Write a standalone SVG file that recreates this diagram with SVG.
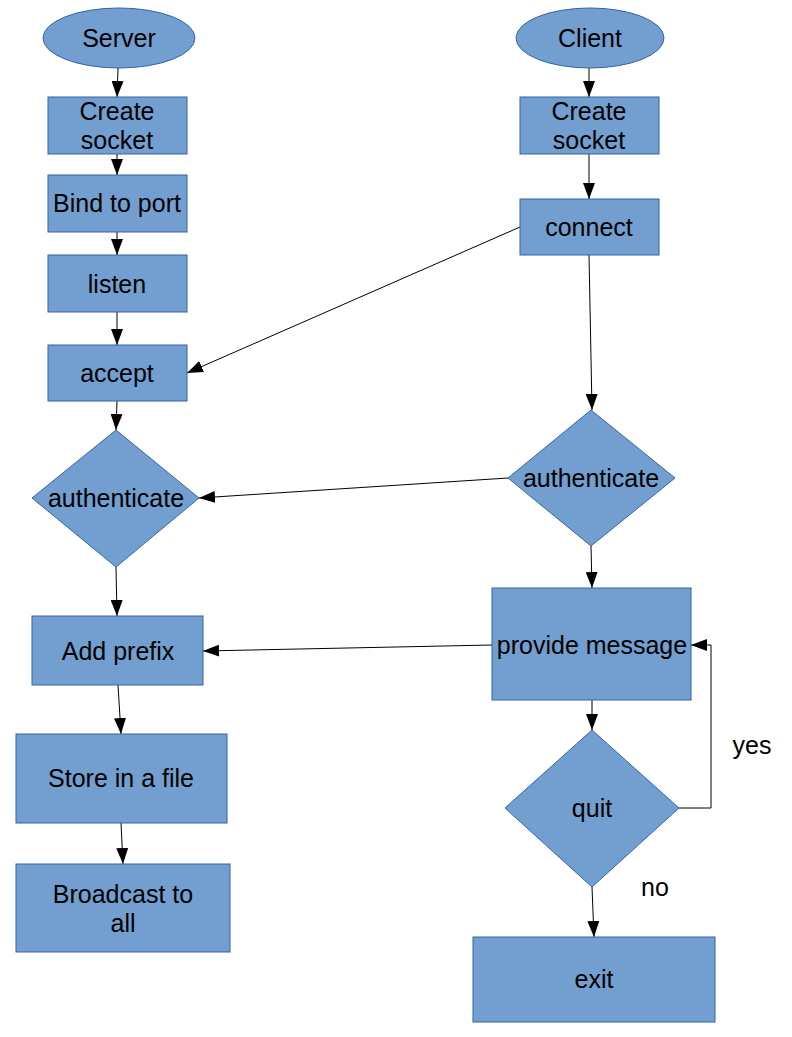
<svg xmlns="http://www.w3.org/2000/svg" width="792" height="1037" viewBox="0 0 792 1037">
<style>
.n{fill:#729fcf;stroke:#3465a4;stroke-width:1}
.t{font-family:"Liberation Sans",Arial,sans-serif;font-size:25px;fill:#000;text-anchor:middle}
.c{fill:none;stroke:#000;stroke-width:1}
</style>
<defs>
<marker id="a" markerUnits="userSpaceOnUse" markerWidth="16" markerHeight="12" refX="16" refY="6" orient="auto">
<path d="M0,0 L16,6 L0,12 z" fill="#000"/>
</marker>
</defs>
<rect width="792" height="1037" fill="#fff"/>
<g id="connectors">
<line class="c" x1="118" y1="68" x2="117" y2="97" marker-end="url(#a)"/>
<line class="c" x1="117" y1="154" x2="117" y2="175" marker-end="url(#a)"/>
<line class="c" x1="117" y1="232" x2="117" y2="255" marker-end="url(#a)"/>
<line class="c" x1="117" y1="312" x2="117" y2="345" marker-end="url(#a)"/>
<line class="c" x1="117" y1="401" x2="116" y2="430" marker-end="url(#a)"/>
<line class="c" x1="116" y1="567" x2="117" y2="616" marker-end="url(#a)"/>
<line class="c" x1="118" y1="685" x2="121" y2="734" marker-end="url(#a)"/>
<line class="c" x1="121" y1="823" x2="123" y2="864" marker-end="url(#a)"/>
<line class="c" x1="589" y1="68" x2="589" y2="97" marker-end="url(#a)"/>
<line class="c" x1="589" y1="154" x2="589" y2="199" marker-end="url(#a)"/>
<line class="c" x1="520" y1="227" x2="187" y2="373" marker-end="url(#a)"/>
<line class="c" x1="589" y1="255" x2="592" y2="410" marker-end="url(#a)"/>
<line class="c" x1="508" y1="478" x2="199" y2="498" marker-end="url(#a)"/>
<line class="c" x1="591" y1="546" x2="592" y2="588" marker-end="url(#a)"/>
<line class="c" x1="492" y1="645" x2="203" y2="651" marker-end="url(#a)"/>
<line class="c" x1="592" y1="700" x2="592" y2="730" marker-end="url(#a)"/>
<polyline class="c" points="679,808 711,808 711,645 691,645" marker-end="url(#a)"/>
<line class="c" x1="592" y1="887" x2="594" y2="937" marker-end="url(#a)"/>
</g>
<g id="server"><ellipse class="n" cx="119" cy="38" rx="76" ry="30"/><text class="t" x="119" y="47">Server</text></g>
<g id="s-create"><rect class="n" x="48" y="97" width="139" height="57"/><text class="t" x="117" y="120">Create</text><text class="t" x="117" y="149">socket</text></g>
<g id="bind"><rect class="n" x="48" y="175" width="139" height="57"/><text class="t" x="117" y="212">Bind to port</text></g>
<g id="listen"><rect class="n" x="48" y="255" width="139" height="57"/><text class="t" x="117" y="293">listen</text></g>
<g id="accept"><rect class="n" x="48" y="345" width="139" height="56"/><text class="t" x="117" y="382">accept</text></g>
<g id="s-auth"><polygon class="n" points="116,430 199,498 116,567 32,498"/><text class="t" x="116" y="507">authenticate</text></g>
<g id="prefix"><rect class="n" x="32" y="616" width="171" height="69"/><text class="t" x="118" y="660">Add prefix</text></g>
<g id="store"><rect class="n" x="16" y="734" width="211" height="89"/><text class="t" x="121" y="787">Store in a file</text></g>
<g id="broadcast"><rect class="n" x="16" y="864" width="214" height="88"/><text class="t" x="123" y="903">Broadcast to</text><text class="t" x="123" y="932">all</text></g>
<g id="client"><ellipse class="n" cx="590" cy="38" rx="74" ry="30"/><text class="t" x="590" y="47">Client</text></g>
<g id="c-create"><rect class="n" x="520" y="97" width="139" height="57"/><text class="t" x="589" y="120">Create</text><text class="t" x="589" y="149">socket</text></g>
<g id="connect"><rect class="n" x="520" y="199" width="139" height="56"/><text class="t" x="589" y="236">connect</text></g>
<g id="c-auth"><polygon class="n" points="591,410 675,478 591,546 508,478"/><text class="t" x="591" y="487">authenticate</text></g>
<g id="provide"><rect class="n" x="492" y="588" width="199" height="112"/><text class="t" x="592" y="654">provide message</text></g>
<g id="quit"><polygon class="n" points="592,730 679,808 592,887 505,808"/><text class="t" x="592" y="817">quit</text></g>
<g id="exit"><rect class="n" x="473" y="937" width="242" height="85"/><text class="t" x="594" y="988">exit</text></g>
<text class="t" x="752" y="754">yes</text>
<text class="t" x="655" y="896">no</text>
</svg>
